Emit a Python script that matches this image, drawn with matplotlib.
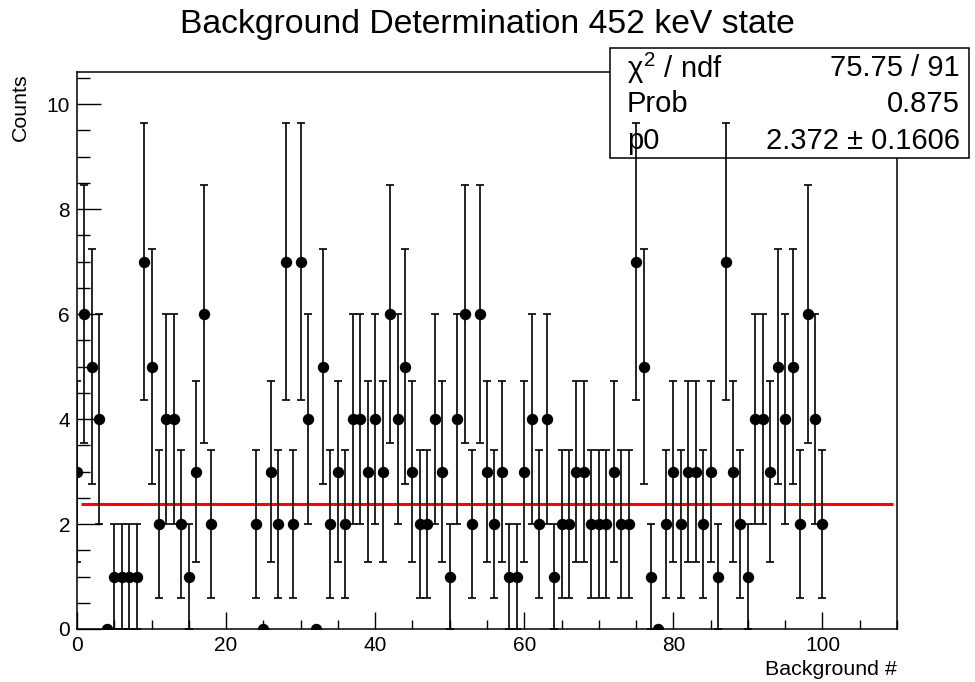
import numpy as np
import matplotlib
matplotlib.use("Agg")
import matplotlib.pyplot as plt
from matplotlib.patches import Rectangle
from matplotlib.ticker import MultipleLocator

plt.rcParams['font.family'] = ['Liberation Sans', 'DejaVu Sans']
plt.rcParams['mathtext.fontset'] = 'custom'
plt.rcParams['mathtext.rm'] = 'Liberation Sans'
plt.rcParams['mathtext.it'] = 'Liberation Sans'

# Background measurement index (19-23 not recorded)
background_id = list(range(0, 19)) + list(range(24, 101))
counts = [3, 6, 5, 4, 0, 1, 1, 1, 1, 7, 5, 2, 4, 4, 2, 1, 3, 6, 2,
          2, 0, 3, 2, 7, 2, 7, 4, 0, 5, 2, 3, 2, 4, 4, 3, 4, 3, 6, 4,
          5, 3, 2, 2, 4, 3, 1, 4, 6, 2, 6, 3, 2, 3, 1, 1, 3, 4, 2, 4,
          1, 2, 2, 3, 3, 2, 2, 2, 3, 2, 2, 7, 5, 1, 0, 2, 3, 2, 3, 3,
          2, 3, 1, 7, 3, 2, 1, 4, 4, 3, 5, 4, 5, 2, 6, 4, 2]

# Constant (pol0) fit results
fit_p0 = 2.372
fit_p0_err = 0.1606
fit_chi2 = 75.75
fit_ndf = 91
fit_prob = 0.875
fit_range = (0.5, 109.4)

x_ticks = [0, 20, 40, 60, 80, 100]
y_ticks = [0, 2, 4, 6, 8, 10]

W, H = 975, 682
fig = plt.figure(figsize=(W / 100, H / 100), dpi=100)


def fx(px):
    return px / W


def fy(py):
    return 1 - py / H


ax_l, ax_r, ax_t, ax_b = 77, 897, 72, 629
ax = fig.add_axes([fx(ax_l), fy(ax_b), fx(ax_r - ax_l), (ax_b - ax_t) / H])

x = np.array(background_id, dtype=float)
y = np.array(counts, dtype=float)
yerr = np.sqrt(y)

ax.errorbar(x, y, yerr=yerr, fmt='none', ecolor='black',
            elinewidth=1.2, capsize=3.2, capthick=1.2, zorder=5)
ax.plot(x, y, 'o', color='black', markersize=8.2, markeredgewidth=0,
        zorder=6)

ax.plot(fit_range, [fit_p0, fit_p0], color='#ff0000', lw=2.2, zorder=4,
        solid_capstyle='butt')

ax.set_xlim(0, 110)
ax.set_ylim(0, 10.61)
ax.set_xticks(x_ticks)
ax.set_yticks(y_ticks)
ax.xaxis.set_minor_locator(MultipleLocator(5))
ax.yaxis.set_minor_locator(MultipleLocator(0.5))
ax.tick_params(axis='x', which='major', direction='in', length=12, width=1.0,
               labelsize=15, pad=5)
ax.tick_params(axis='x', which='minor', direction='in', length=6.5, width=1.0)
ax.tick_params(axis='y', which='major', direction='in', length=17.5, width=1.0,
               labelsize=15, pad=5)
ax.tick_params(axis='y', which='minor', direction='in', length=9, width=1.0)
for s in ax.spines.values():
    s.set_linewidth(1.1)

# Title and axis titles
fig.text(fx(487), fy(24), 'Background Determination 452 keV state',
         ha='center', va='center', fontsize=24.3)
fig.text(fx(ax_r), fy(675), 'Background #', ha='right', va='baseline',
         fontsize=15.4)
fig.text(fx(20), fy(73), 'Counts', ha='center', va='top', rotation=90,
         fontsize=15.4)

# Fit statistics box
bx0, bx1, by0, by1 = 610, 969, 48, 158
box = Rectangle((fx(bx0), fy(by1)), fx(bx1 - bx0), (by1 - by0) / H,
                transform=fig.transFigure, facecolor='white',
                edgecolor='black', lw=1.1, clip_on=False, zorder=3)
ax.add_artist(box)
rows = [(r'$\chi^{2}$ / ndf', f'{fit_chi2:.2f} / {fit_ndf}'),
        ('Prob', f'{fit_prob:.3f}'),
        ('p0', f'{fit_p0:.3f} \u00b1 {fit_p0_err:.4f}')]
row_y = [68, 104, 141]
for yc, (lab, val) in zip(row_y, rows):
    ax.text(fx(627), fy(yc), lab, transform=fig.transFigure, ha='left',
            va='center', fontsize=21, zorder=3.5, clip_on=False)
    ax.text(fx(960), fy(yc), val, transform=fig.transFigure, ha='right',
            va='center', fontsize=21, zorder=3.5, clip_on=False)

fig.savefig('out.png', dpi=100)
